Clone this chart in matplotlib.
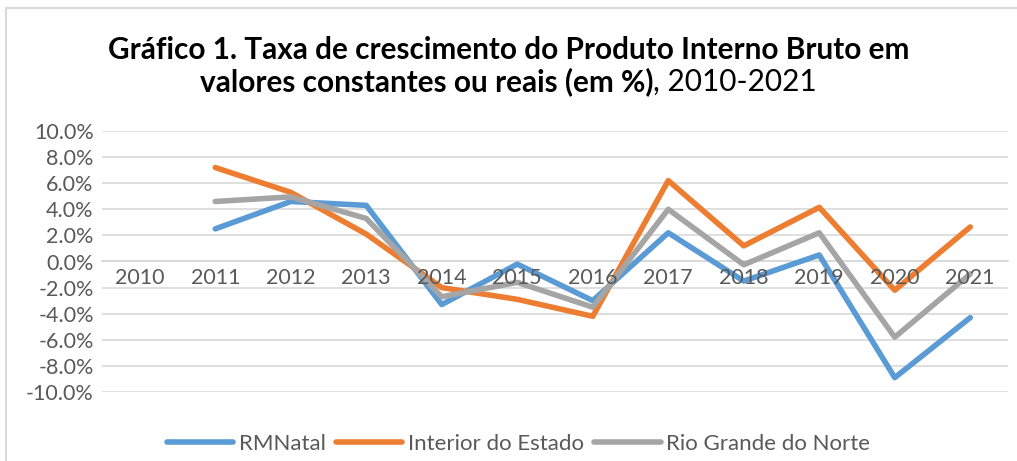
import matplotlib.pyplot as plt
from matplotlib.patches import Rectangle

years = ['2010', '2011', '2012', '2013', '2014', '2015', '2016',
         '2017', '2018', '2019', '2020', '2021']
rmnatal = [None, 2.5, 4.6, 4.3, -3.3, -0.2, -3.0, 2.2, -1.5, 0.5, -8.9, -4.3]
interior = [None, 7.2, 5.3, 2.1, -2.0, -2.9, -4.2, 6.2, 1.2, 4.15, -2.2, 2.65]
rn = [None, 4.6, 4.95, 3.3, -2.7, -1.6, -3.5, 4.0, -0.25, 2.2, -5.8, -0.95]
yticks = [-10, -8, -6, -4, -2, 0, 2, 4, 6, 8, 10]

plt.rcParams['font.family'] = ['Lato', 'DejaVu Sans']
txt = '#595959'
grid = '#d9d9d9'

fig = plt.figure(figsize=(10.17, 4.61), dpi=100)
ax = fig.add_axes([102 / 1017, 1 - 392 / 461, 906 / 1017, 261 / 461])

# category axis crosses at zero (Excel style) - set before tick labels
for s in ['top', 'right', 'left']:
    ax.spines[s].set_visible(False)
ax.spines['bottom'].set_position(('data', 0))
ax.spines['bottom'].set_color(grid)
ax.spines['bottom'].set_linewidth(1.2)
ax.spines['bottom'].set_zorder(0.5)

x = list(range(len(years)))
ax.plot(x[1:], rmnatal[1:], color='#5b9bd5', lw=4, label='RMNatal', solid_capstyle='round')
ax.plot(x[1:], interior[1:], color='#ed7d31', lw=4, label='Interior do Estado', solid_capstyle='round')
ax.plot(x[1:], rn[1:], color='#a5a5a5', lw=4, label='Rio Grande do Norte', solid_capstyle='round')

ax.set_xlim(-0.5, len(years) - 0.5)
ax.set_ylim(-10, 10)
ax.set_yticks(yticks)
ax.set_yticklabels(['%.1f%%' % v for v in yticks], color=txt, fontsize=15.5)
ax.set_xticks(x)
ax.set_xticklabels(years, color=txt, fontsize=15.5)
ax.tick_params(length=0)
ax.tick_params(axis='x', pad=5)
ax.tick_params(axis='y', pad=6)
ax.grid(axis='y', color=grid, lw=1.2)
# gridlines under the lines, year labels over them
ax.yaxis.set_zorder(0.5)
ax.xaxis.set_zorder(3)

# border of the chart area
fig.patches.append(Rectangle((6 / 1017, -0.1), 1.2, (1 - 8 / 461) + 0.1,
                             transform=fig.transFigure, fill=False,
                             edgecolor='#d9d9d9', lw=1.5))

# title: bold part + normal part
fig.text(0.5, 1 - 50 / 461, 'Gráfico 1. Taxa de crescimento do Produto Interno Bruto em',
         ha='center', va='center', fontsize=21.4, fontweight='bold', color='black')
fig.canvas.draw()
r = fig.canvas.get_renderer()
b = fig.text(0, 1 - 82 / 461, 'valores constantes ou reais (em %)', ha='left', va='center',
             fontsize=21.4, fontweight='bold', color='black')
n = fig.text(0, 1 - 82 / 461, ', 2010-2021', ha='left', va='center',
             fontsize=21.4, color='black')
wb = b.get_window_extent(r).width / fig.bbox.width
wn = n.get_window_extent(r).width / fig.bbox.width
start = 0.5 - (wb + wn) / 2
b.set_x(start)
n.set_x(start + wb)

ax.legend(loc='center', bbox_to_anchor=(0.5 + 10 / 1017, 1 - 444 / 461), bbox_transform=fig.transFigure,
          ncol=3, frameon=False, fontsize=16, labelcolor=txt, handlelength=3.0,
          columnspacing=0.45, handletextpad=0.25)

fig.savefig('out.png', dpi=100)
